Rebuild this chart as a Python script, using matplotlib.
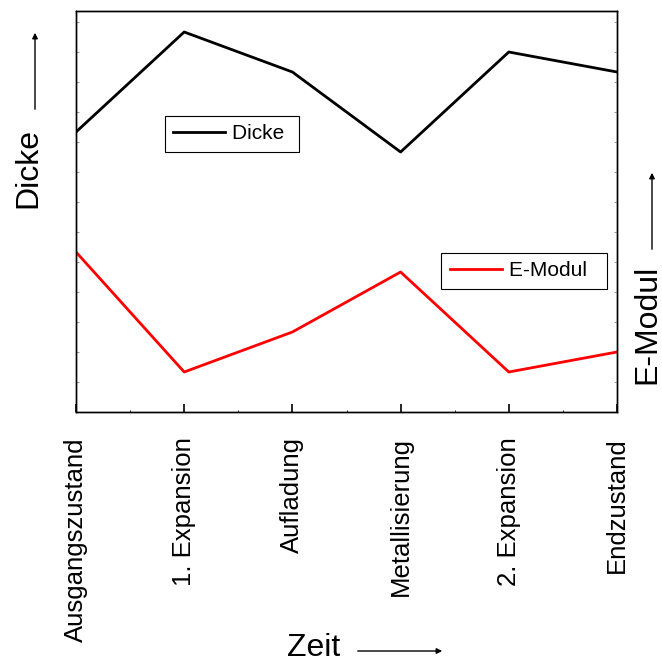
import matplotlib
matplotlib.use("Agg")
import matplotlib.pyplot as plt
from matplotlib.ticker import MultipleLocator, NullFormatter

stages = ["Ausgangszustand", "1. Expansion", "Aufladung", "Metallisierung", "2. Expansion", "Endzustand"]
dicke = [14, 19, 17, 13, 18, 17]
emodul = [8, 2, 4, 7, 2, 3]

plt.rcParams['font.family'] = ['Liberation Sans', 'DejaVu Sans']

fig = plt.figure(figsize=(6.62, 6.62), dpi=100)
W = H = 662.0
ax = fig.add_axes([76 / W, 1 - 412 / H, (617 - 76) / W, (412 - 11) / H])
x = list(range(len(stages)))
l1, = ax.plot(x, dicke, color='black', lw=2.0, label='Dicke')
ax2 = ax.twinx()
l2, = ax2.plot(x, emodul, color='red', lw=2.0, label='E-Modul')
for a in (ax, ax2):
    a.set_ylim(0, 20.05)
    a.set_xlim(0, 5)
    a.yaxis.set_major_formatter(NullFormatter())
    a.yaxis.set_major_locator(MultipleLocator(3))
    a.yaxis.set_minor_locator(MultipleLocator(1.5))
    for s in a.spines.values():
        s.set_linewidth(1.0)
ax.tick_params(axis='y', which='both', direction='in', length=2, width=0.6, colors='#888888')
ax2.tick_params(axis='y', which='both', direction='in', length=2, width=0.6, colors='#888888')
ax.set_xticks(x)
ax.set_xticklabels(stages, rotation=90, fontsize=18.5)
ax.xaxis.set_minor_locator(MultipleLocator(0.5))
ax.tick_params(axis='x', which='major', direction='in', length=6, width=1.2, pad=18)
ax.tick_params(axis='x', which='minor', direction='in', length=1.5, width=0.6)

legkw = dict(loc='upper left', borderaxespad=0, fancybox=False, edgecolor='black',
             framealpha=1, fontsize=15, handlelength=2.5, handletextpad=0.34, borderpad=0.4)
leg1 = ax2.legend(handles=[l1], labels=['Dicke '], bbox_to_anchor=(0.1645, 0.738), **legkw)
leg1.get_frame().set_linewidth(0.8)
ax2.add_artist(leg1)
leg2 = ax2.legend(handles=[l2], labels=['E-Modul  '], bbox_to_anchor=(0.675, 0.3965), **legkw)
leg2.get_frame().set_linewidth(0.8)

# axis labels with arrows
fig.text(28 / W, 1 - 168.5 / H, "Dicke", rotation=90, fontsize=23, ha='center', va='center')
fig.add_artist(matplotlib.patches.FancyArrowPatch((35 / W, 1 - 112 / H), (35 / W, 1 - 30 / H),
               transform=fig.transFigure, arrowstyle='-|>', mutation_scale=8, lw=1.0, color='black'))
fig.text(647 / W, 1 - 324 / H, "E-Modul", rotation=90, fontsize=23, ha='center', va='center')
fig.add_artist(matplotlib.patches.FancyArrowPatch((652 / W, 1 - 252 / H), (652 / W, 1 - 170 / H),
               transform=fig.transFigure, arrowstyle='-|>', mutation_scale=8, lw=1.0, color='black'))
fig.text(313.5 / W, 1 - 648 / H, "Zeit", fontsize=23, ha='center', va='center')
fig.add_artist(matplotlib.patches.FancyArrowPatch((355 / W, 1 - 651 / H), (445 / W, 1 - 651 / H),
               transform=fig.transFigure, arrowstyle='-|>', mutation_scale=8, lw=1.0, color='black'))

fig.savefig("out.png", dpi=100)
